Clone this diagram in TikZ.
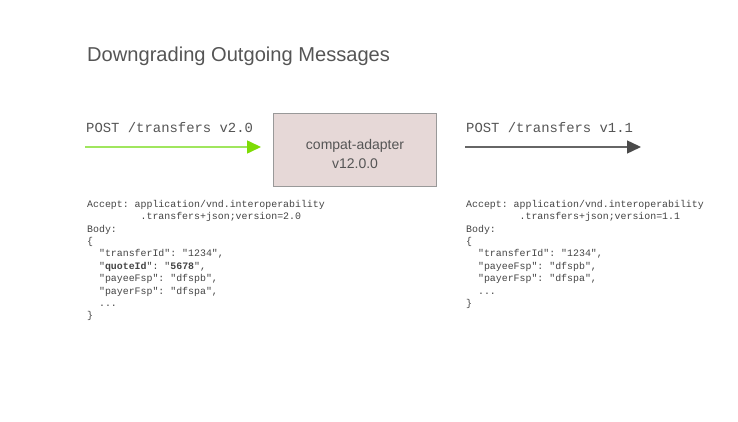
\documentclass[tikz,border=0pt]{standalone}
\usepackage{fontspec}
\setmainfont{Liberation Sans}
\setmonofont{Liberation Mono}
\usetikzlibrary{arrows.meta}
\definecolor{txt}{HTML}{555555}
\definecolor{code}{HTML}{444444}
\definecolor{boxfill}{HTML}{E6D8D7}
\definecolor{boxline}{HTML}{999999}
\definecolor{greenline}{HTML}{A0E65E}
\definecolor{greenhead}{HTML}{7EDC05}
\definecolor{grayline}{HTML}{666666}
\definecolor{grayhead}{HTML}{4A4A4A}
\newcommand{\ind}[1]{\hspace*{#1\dimexpr 0.6em\relax}}
\begin{document}
\begin{tikzpicture}[x=1pt,y=-1pt,
  title/.style={anchor=base west,inner sep=0pt,text=txt,font=\fontsize{20.1}{23}\selectfont},
  post/.style={anchor=base west,inner sep=0pt,text=txt,font=\ttfamily\fontsize{13.9}{16}\selectfont},
  codeblock/.style={anchor=north west,inner sep=0pt,text=code,align=left,font=\ttfamily\fontsize{9.9}{12.4}\selectfont},
  adapter/.style={draw=boxline,fill=boxfill,line width=1.6pt,minimum width=163pt,minimum height=73pt,inner sep=0pt},
  adaptertext/.style={inner sep=0pt,align=center,text=txt,font=\fontsize{14}{19}\selectfont},
  greenarrow/.style={draw=greenline,line width=1.6pt,-{Triangle[length=14pt,width=13pt,color=greenhead]}},
  grayarrow/.style={draw=grayline,line width=1.4pt,-{Triangle[length=14pt,width=13pt,color=grayhead]}}
]
\useasboundingbox (0,0) rectangle (738,422);
\node[title] (title) at (87,62) {Downgrading Outgoing Messages};
\node[post] (postl) at (86,133) {POST /transfers v2.0};
\node[post] (postr) at (466,133) {POST /transfers v1.1};
\node[adapter] (adapter) at (355,150) {};
\node[adaptertext] (adapterlabel) at ([yshift=-4pt]adapter.center) {compat-adapter\\v12.0.0};
\coordinate (gs) at (85,147);
\coordinate (ge) at (261,147);
\coordinate (rs) at (465,147);
\coordinate (re) at (641,147);
\draw[greenarrow] (gs) -- (ge);
\draw[grayarrow] (rs) -- (re);
\node[codeblock] (codel) at (87,200) {Accept: application/vnd.interoperability\\
\ind{9}.transfers+json;version=2.0\\
Body:\\
\{\\
\ind{2}"transferId": "1234",\\
\ind{2}"\textbf{quoteId}": "\textbf{5678}",\\
\ind{2}"payeeFsp": "dfspb",\\
\ind{2}"payerFsp": "dfspa",\\
\ind{2}...\\
\}};
\node[codeblock] (coder) at (466,200) {Accept: application/vnd.interoperability\\
\ind{9}.transfers+json;version=1.1\\
Body:\\
\{\\
\ind{2}"transferId": "1234",\\
\ind{2}"payeeFsp": "dfspb",\\
\ind{2}"payerFsp": "dfspa",\\
\ind{2}...\\
\}};
\end{tikzpicture}
\end{document}
